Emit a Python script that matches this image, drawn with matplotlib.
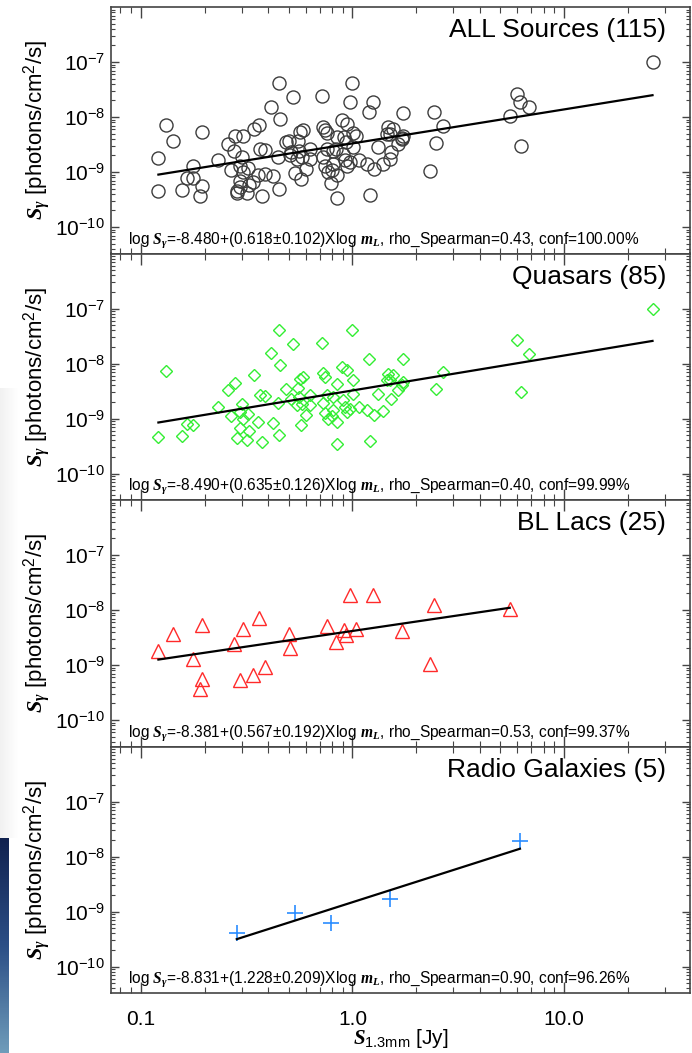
import numpy as np
import matplotlib
matplotlib.use("Agg")
from matplotlib import pyplot as plt
from matplotlib.ticker import LogLocator, NullFormatter, FixedLocator, FixedFormatter

plt.rcParams['font.family'] = ['Liberation Sans', 'DejaVu Sans']
plt.rcParams['mathtext.fontset'] = 'custom'
plt.rcParams['mathtext.rm'] = 'Liberation Sans'
plt.rcParams['mathtext.it'] = 'Liberation Serif:italic:bold'
plt.rcParams['mathtext.bf'] = 'Liberation Sans:bold'
plt.rcParams['axes.unicode_minus'] = False

# quasars: S_1.3mm [Jy], S_gamma [photons/cm2/s]
qso_x = [0.132, 0.121, 0.156, 0.166, 0.177, 0.232, 0.259, 0.278, 0.266, 0.294,
         0.285, 0.316, 0.299, 0.322, 0.305, 0.342, 0.359, 0.372, 0.365, 0.386,
         0.410, 0.454, 0.451, 0.423, 0.451, 0.446, 0.483, 0.521, 0.515, 0.554,
         0.565, 0.586, 0.575, 0.603, 0.571, 0.630, 0.715, 0.723, 0.741, 0.728,
         0.741, 0.769, 0.797, 0.841, 0.811, 0.841, 0.889, 0.938, 0.905, 0.922,
         0.973, 1.002, 0.998, 1.009, 1.077, 1.167, 1.202, 1.268, 1.210, 1.325,
         1.400, 1.477, 1.504, 1.560, 1.514, 1.738, 1.706, 1.738, 2.48, 2.69,
         26.2, 5.98, 6.82, 6.25,
         0.632, 0.755, 0.811, 0.841, 1.648, 0.324, 0.557, 0.938, 0.545, 1.451, 0.294]
qso_y = [7.3e-9, 4.6e-10, 4.8e-10, 7.85e-10, 7.7e-10, 1.62e-9, 3.26e-9, 4.43e-9, 1.1e-9, 6.8e-10,
         4.5e-10, 4.1e-10, 1.86e-9, 1.19e-9, 9.95e-10, 6.1e-9, 8.65e-10, 3.74e-10, 2.64e-9, 2.54e-9,
         1.55e-8, 9.27e-9, 4.13e-8, 8.3e-10, 4.95e-10, 1.91e-9, 3.49e-9, 2.3e-8, 2.3e-9, 3.59e-9,
         5.3e-9, 5.7e-9, 1.86e-9, 1.14e-9, 7.5e-10, 2.64e-9, 2.36e-8, 6.7e-9, 5.7e-9, 1.91e-9,
         1.26e-9, 9.95e-10, 1.1e-9, 4.3e-9, 2.46e-9, 3.4e-10, 8.65e-9, 7.5e-9, 2.14e-9, 1.62e-9,
         1.51e-9, 5.1e-9, 4.13e-8, 2.83e-9, 1.62e-9, 1.41e-9, 1.23e-8, 1.14e-9, 3.9e-10, 2.83e-9,
         1.37e-9, 6.55e-9, 4.95e-9, 6.1e-9, 2.3e-9, 1.19e-8, 4.0e-9, 4.6e-9, 3.4e-9, 7.0e-9,
         1.0e-7, 2.64e-8, 1.51e-8, 3.03e-9,
         1.74e-9, 2.64e-9, 1.41e-9, 8.65e-10, 3.26e-9, 5.9e-10, 2.46e-9, 1.31e-9, 1.74e-9, 4.95e-9, 1.31e-9]

# BL Lacs
bll_x = [0.121, 0.142, 0.177, 0.195, 0.195, 0.190, 0.277, 0.304, 0.294, 0.340,
         0.362, 0.387, 0.500, 0.505, 0.756, 0.839, 0.916, 0.929, 0.971, 1.043,
         1.253, 1.718, 2.32, 2.43, 5.54]
bll_y = [1.80e-9, 3.72e-9, 1.31e-9, 5.27e-9, 5.65e-10, 3.7e-10, 2.45e-9, 4.58e-9, 5.27e-10, 6.5e-10,
         7.26e-9, 9.2e-10, 3.61e-9, 2.04e-9, 5.06e-9, 2.62e-9, 4.27e-9, 3.47e-9, 1.85e-8, 4.58e-9,
         1.85e-8, 4.1e-9, 1.03e-9, 1.22e-8, 1.06e-8]

# radio galaxies
rg_x = [0.284, 0.538, 0.793, 1.51, 6.19]
rg_y = [4.07e-10, 9.4e-10, 6.2e-10, 1.71e-9, 1.91e-8]

all_x = qso_x + bll_x + rg_x
all_y = qso_y + bll_y + rg_y

# fit results: log S = a + b log x
titles = ['ALL Sources (115)', 'Quasars (85)', 'BL Lacs (25)', 'Radio Galaxies (5)']
fit_a = [-8.480, -8.490, -8.381, -8.831]
fit_b = [0.618, 0.635, 0.567, 1.228]
fit_err = [0.102, 0.126, 0.192, 0.209]
rho = [0.43, 0.40, 0.53, 0.90]
conf = ['100.00', '99.99', '99.37', '96.26']

xs = [all_x, qso_x, bll_x, rg_x]
ys = [all_y, qso_y, bll_y, rg_y]
styles = [dict(marker='o', ms=9.4, mfc='none', mec='#3c3c3c', mew=1.0),
          dict(marker='D', ms=6.3, mfc='none', mec='#33ee33', mew=1.0),
          dict(marker='^', ms=10.5, mfc='none', mec='#ff2a2a', mew=1.0),
          dict(marker='+', ms=11.5, mfc='none', mec='#2a8cff', mew=1.2)]

fig = plt.figure(figsize=(6.92, 10.53), dpi=100)

# slide background on the left edge
bg = fig.add_axes([0, 0, 9 / 692, 215 / 1053])
grad = np.linspace(0, 1, 100).reshape(-1, 1)
bg.imshow(grad, aspect='auto', cmap=matplotlib.colors.LinearSegmentedColormap.from_list(
    'slide', ['#6f9cba', '#2c4f86', '#11224f']), origin='lower')
bg.axis('off')
bg2 = fig.add_axes([0, 215 / 1053, 18 / 692, 450 / 1053])
bg2.imshow(np.linspace(0, 1, 100).reshape(1, -1), aspect='auto',
           cmap=matplotlib.colors.LinearSegmentedColormap.from_list('g', ['#f1f1f1', '#ffffff']))
bg2.axis('off')

left, right = 110.7 / 692, 690 / 692
top, bottom = 1 - 7 / 1053, 1 - 993 / 1053
h = (top - bottom) / 4

axes = []
for i in range(4):
    ax = fig.add_axes([left, top - (i + 1) * h, right - left, h])
    axes.append(ax)
    x = np.array(xs[i])
    y = np.array(ys[i])
    ax.plot(x, y, ls='none', **styles[i])
    xl = np.array([x.min(), x.max()])
    ax.plot(xl, 10 ** (fit_a[i] + fit_b[i] * np.log10(xl)), color='black', lw=1.6)

    ax.set_xscale('log')
    ax.set_yscale('log')
    ax.set_xlim(0.072, 39.4)
    ax.set_ylim(3.3e-11, 1e-6)

    ax.yaxis.set_major_locator(FixedLocator([1e-10, 1e-9, 1e-8, 1e-7]))
    ax.yaxis.set_minor_locator(LogLocator(base=10, subs=np.arange(2, 10)))
    ax.yaxis.set_minor_formatter(NullFormatter())
    ax.xaxis.set_major_locator(FixedLocator([0.1, 1.0, 10.0]))
    ax.xaxis.set_major_formatter(FixedFormatter(['0.1', '1.0', '10.0']))
    ax.xaxis.set_minor_locator(LogLocator(base=10, subs=np.arange(2, 10)))
    ax.xaxis.set_minor_formatter(NullFormatter())

    ax.tick_params(which='both', direction='in', top=True, right=True, color='#444444')
    ax.tick_params(axis='y', which='major', length=6, width=1.0, labelsize=15, pad=4)
    ax.tick_params(axis='y', which='minor', length=3, width=0.8)
    ax.tick_params(axis='x', which='major', length=8, width=1.0, labelsize=15, pad=12)
    ax.tick_params(axis='x', which='minor', length=4, width=0.8)
    if i < 3:
        ax.tick_params(axis='x', labelbottom=False)
    for sp in ax.spines.values():
        sp.set_color('#444444')
        sp.set_linewidth(1.2)

    ax.set_ylabel(r'$S_\gamma$ [photons/cm$^2$/s]', fontsize=16)
    ax.yaxis.set_label_coords(-0.10, 0.5)
    ax.text(0.9586, 0.905, titles[i], transform=ax.transAxes, ha='right', va='center', fontsize=19)
    eq = (r'log $S_\gamma$=%.3f+(%.3f$\pm$%.3f)Xlog $m_L$, rho_Spearman=%.2f, conf=%s%%'
          % (fit_a[i], fit_b[i], fit_err[i], rho[i], conf[i]))
    ax.text(0.03, 0.055, eq, transform=ax.transAxes, ha='left', va='center', fontsize=11.2)

axes[-1].set_xlabel(r'$S_{\rm 1.3mm}$ [Jy]', fontsize=15, labelpad=-1)

fig.savefig('out.png', dpi=100)
